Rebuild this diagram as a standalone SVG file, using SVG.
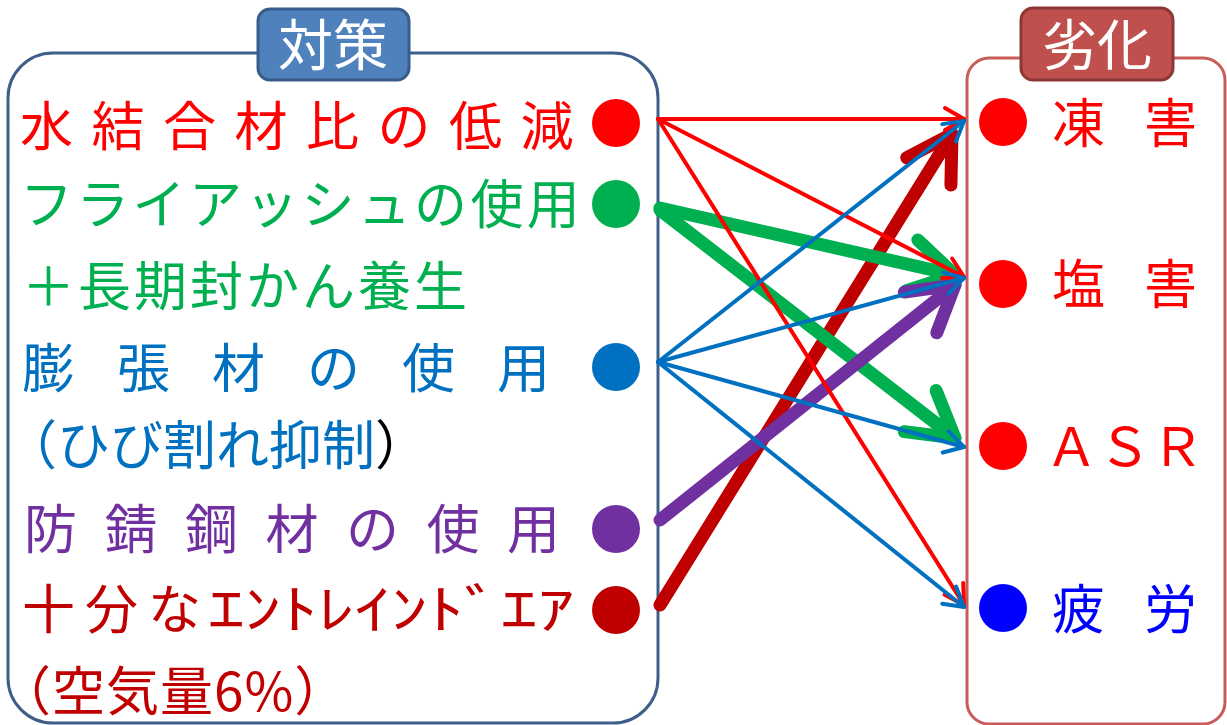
<svg xmlns="http://www.w3.org/2000/svg" width="1227" height="725" viewBox="0 0 1227 725">
<style>
text{font-family:"Noto Sans CJK JP","Noto Sans CJK SC",sans-serif;font-size:53px}
.t{font-size:55px;fill:#fff;text-anchor:middle}
.c{fill:none;stroke-linecap:round}
.thin{stroke-width:4}
.thick{stroke-width:13}
.red{fill:#ff0000}.grn{fill:#00b050}.blu{fill:#0070c0}.pur{fill:#7030a0}.drd{fill:#c00000}.bl2{fill:#0000ff}
</style>
<defs>
<marker id="aR" markerUnits="userSpaceOnUse" orient="auto" overflow="visible" markerWidth="1" markerHeight="1"><path d="M-19,-11 L0,0 L-19,11" fill="none" stroke="#ff0000" stroke-width="4" stroke-linecap="round" stroke-linejoin="round"/></marker>
<marker id="aB" markerUnits="userSpaceOnUse" orient="auto" overflow="visible" markerWidth="1" markerHeight="1"><path d="M-19,-11 L0,0 L-19,11" fill="none" stroke="#0070c0" stroke-width="4" stroke-linecap="round" stroke-linejoin="round"/></marker>
<marker id="aG" markerUnits="userSpaceOnUse" orient="auto" overflow="visible" markerWidth="1" markerHeight="1"><path d="M-44,-26 L0,0 L-44,26" fill="none" stroke="#00b050" stroke-width="13" stroke-linecap="round" stroke-linejoin="round"/></marker>
<marker id="aP" markerUnits="userSpaceOnUse" orient="auto" overflow="visible" markerWidth="1" markerHeight="1"><path d="M-44,-26 L0,0 L-44,26" fill="none" stroke="#7030a0" stroke-width="13" stroke-linecap="round" stroke-linejoin="round"/></marker>
<marker id="aD" markerUnits="userSpaceOnUse" orient="auto" overflow="visible" markerWidth="1" markerHeight="1"><path d="M-44,-26 L0,0 L-44,26" fill="none" stroke="#c00000" stroke-width="13" stroke-linecap="round" stroke-linejoin="round"/></marker>
</defs>
<rect width="1227" height="725" fill="#fff"/>

<g id="taisaku">
<rect x="8" y="53" width="650" height="670" rx="45" fill="none" stroke="#3e5f8a" stroke-width="3"/>
<rect x="258" y="9" width="151" height="71" rx="12" fill="#4f81bd" stroke="#385d8a" stroke-width="3"/>
<text class="t" x="333" y="65">対策</text>
</g>

<g id="rekka">
<rect x="967" y="58" width="258" height="666" rx="22" fill="none" stroke="#c95b59" stroke-width="3"/>
<rect x="1021" y="8" width="152" height="72" rx="12" fill="#c0504d" stroke="#8c3836" stroke-width="3"/>
<text class="t" x="1097" y="65">劣化</text>
</g>

<g id="n-wc" class="red"><text x="20" y="146" letter-spacing="18.5">水結合材比の低減</text><circle cx="616" cy="123" r="24"/></g>
<g id="n-fa" class="grn"><text x="20" y="224" letter-spacing="3.3">フライアッシュの使用</text><text x="22" y="306" letter-spacing="3">＋長期封かん養生</text><circle cx="616" cy="204" r="24"/></g>
<g id="n-exp" class="blu"><text x="22" y="388" letter-spacing="42">膨張材の使用</text><text x="4" y="465">（ひび割れ抑制<tspan fill="#000">）</tspan></text><circle cx="616" cy="367" r="24"/></g>
<g id="n-rust" class="pur"><text x="24" y="549" letter-spacing="27.5">防錆鋼材の使用</text><circle cx="616" cy="529" r="24"/></g>
<g id="n-air" class="drd"><text x="22" y="629" letter-spacing="10">十分な</text><text x="208" y="629" textLength="366" lengthAdjust="spacingAndGlyphs">ｴﾝﾄﾚｲﾝﾄﾞｴｱ</text><text x="-2" y="711" letter-spacing="1">（空気量6%）</text><circle cx="616" cy="610" r="24"/></g>

<g id="d-frost" class="red"><circle cx="1003" cy="122" r="24"/><text x="1052 1144" y="143">凍害</text></g>
<g id="d-salt" class="red"><circle cx="1003" cy="284" r="24"/><text x="1052 1144" y="304">塩害</text></g>
<g id="d-asr" class="red"><circle cx="1003" cy="446" r="24"/><text x="1045" y="466">ＡＳＲ</text></g>
<g id="d-fat" class="bl2"><circle cx="1003" cy="608" r="24"/><text x="1052 1144" y="629">疲労</text></g>

<g id="connectors">
<line class="c thick" stroke="#c00000" x1="660" y1="605" x2="952" y2="134" marker-end="url(#aD)"/>
<line class="c thick" stroke="#00b050" x1="660" y1="208" x2="955" y2="275" marker-end="url(#aG)"/>
<line class="c thick" stroke="#00b050" x1="660" y1="210" x2="955" y2="438" marker-end="url(#aG)"/>
<line class="c thick" stroke="#7030a0" x1="660" y1="520" x2="955" y2="285" marker-end="url(#aP)"/>
<line class="c thin" stroke="#ff0000" x1="658" y1="119" x2="964" y2="119" marker-end="url(#aR)"/>
<line class="c thin" stroke="#ff0000" x1="658" y1="119" x2="964" y2="277" marker-end="url(#aR)"/>
<line class="c thin" stroke="#ff0000" x1="658" y1="119" x2="964" y2="605" marker-end="url(#aR)"/>
<line class="c thin" stroke="#0070c0" x1="658" y1="362" x2="964" y2="121" marker-end="url(#aB)"/>
<line class="c thin" stroke="#0070c0" x1="658" y1="362" x2="964" y2="278" marker-end="url(#aB)"/>
<line class="c thin" stroke="#0070c0" x1="658" y1="362" x2="964" y2="447" marker-end="url(#aB)"/>
<line class="c thin" stroke="#0070c0" x1="658" y1="362" x2="964" y2="607" marker-end="url(#aB)"/>
</g>
</svg>
